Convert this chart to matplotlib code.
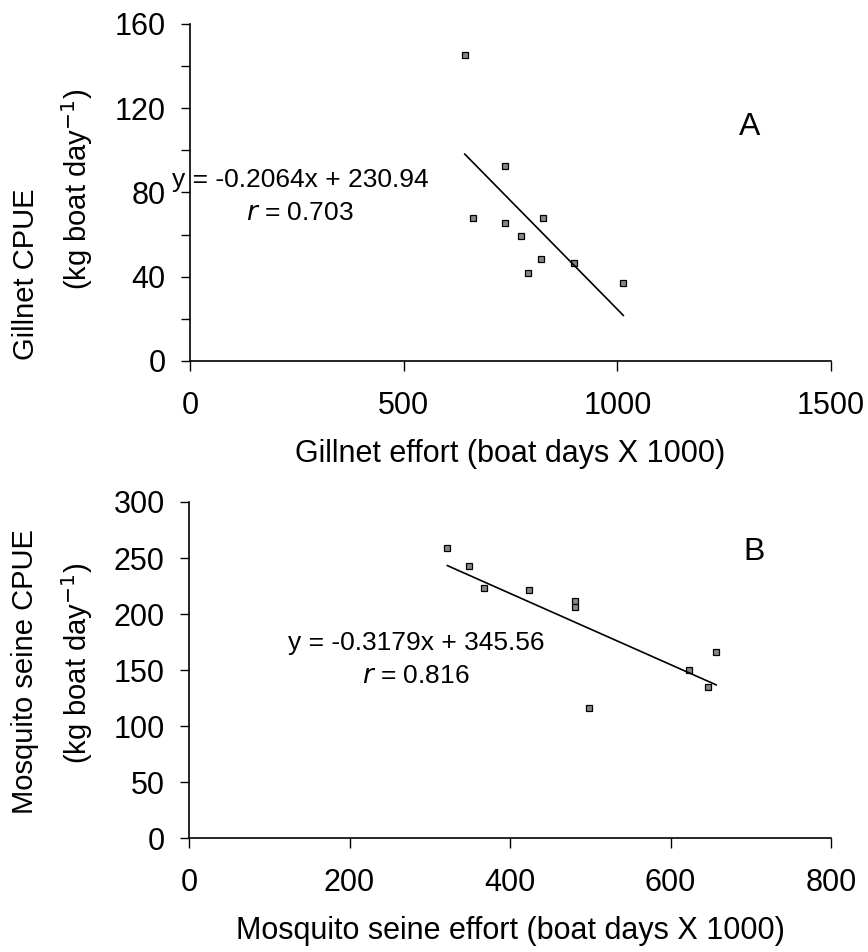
import matplotlib
matplotlib.use("Agg")
import matplotlib.pyplot as plt
import numpy as np

plt.rcParams['font.family'] = ['Liberation Sans', 'DejaVu Sans']

# panel A - gillnet
gill_effort = [643, 738, 663, 738, 775, 827, 822, 790, 898, 1014]
gill_cpue = [145.5, 92.4, 68, 65.4, 59.4, 68, 48.3, 41.9, 46.6, 36.9]
gill_slope, gill_icpt, gill_r = -0.2064, 230.94, 0.703

# panel B - mosquito seine
seine_effort = [322, 349, 367, 424, 481, 481, 499, 623, 647, 657]
seine_cpue = [259, 243, 223, 221, 212, 206, 116, 150, 135, 166]
seine_slope, seine_icpt, seine_r = -0.3179, 345.56, 0.816

fig = plt.figure(figsize=(8.68, 9.52), dpi=100)
axA = fig.add_axes([190/868, 1-361/952, 641/868, 337/952])
axB = fig.add_axes([189/868, 1-838/952, 642/868, 336/952])

def style(ax):
    for s in ['top', 'right']:
        ax.spines[s].set_visible(False)
    for s in ['left', 'bottom']:
        ax.spines[s].set_linewidth(1.2)
    ax.tick_params(axis='both', which='both', direction='out', width=1,
                   labelsize=22)
    ax.tick_params(axis='y', which='both', length=6.5, pad=11)
    ax.tick_params(axis='x', which='both', length=7.5, pad=14)

def draw(ax, x, y, slope, icpt):
    ax.plot(x, y, linestyle='none', marker='s', markersize=4.8,
            markerfacecolor='#888888', markeredgecolor='black', markeredgewidth=0.9,
            clip_on=False)
    xf = np.array([min(x), max(x)])
    ax.plot(xf, slope*xf + icpt, color='black', linewidth=1.2)

# A
draw(axA, gill_effort, gill_cpue, gill_slope, gill_icpt)
style(axA)
axA.set_xlim(0, 1500)
axA.set_ylim(0, 160)
axA.set_xticks([0, 500, 1000, 1500])
axA.set_yticks([0, 40, 80, 120, 160])
axA.set_yticks(np.arange(20, 160, 40), minor=True)
axA.set_xlabel('Gillnet effort (boat days X 1000)', fontsize=22, labelpad=13)
axA.text(257, 86, f'y = {gill_slope}x + {gill_icpt}', fontsize=19,
         ha='center', va='center')
axA.text(257, 70.5, f'$\\mathit{{r}}$ = {gill_r}', fontsize=19,
         ha='center', va='center')
axA.text(1310, 111, 'A', fontsize=23, ha='center', va='center')
fig.text(26/868, 1-274/952, 'Gillnet CPUE', rotation=90, fontsize=21,
         ha='center', va='center')
fig.text(77/868, 1-189/952, '(kg boat day$^{-1}$)', rotation=90, fontsize=21,
         ha='center', va='center')

# B
draw(axB, seine_effort, seine_cpue, seine_slope, seine_icpt)
style(axB)
axB.set_xlim(0, 800)
axB.set_ylim(0, 300)
axB.set_xticks([0, 200, 400, 600, 800])
axB.set_yticks([0, 50, 100, 150, 200, 250, 300])
axB.set_xlabel('Mosquito seine effort (boat days X 1000)', fontsize=22, labelpad=13)
axB.text(283, 174.5, f'y = {seine_slope}x + {seine_icpt}', fontsize=19,
         ha='center', va='center')
axB.text(283, 145, f'$\\mathit{{r}}$ = {seine_r}', fontsize=19,
         ha='center', va='center')
axB.text(704, 255, 'B', fontsize=23, ha='center', va='center')
fig.text(25/868, 1-671/952, 'Mosquito seine CPUE', rotation=90, fontsize=21,
         ha='center', va='center')
fig.text(77/868, 1-663/952, '(kg boat day$^{-1}$)', rotation=90, fontsize=21,
         ha='center', va='center')

fig.savefig('out.png', dpi=100)
